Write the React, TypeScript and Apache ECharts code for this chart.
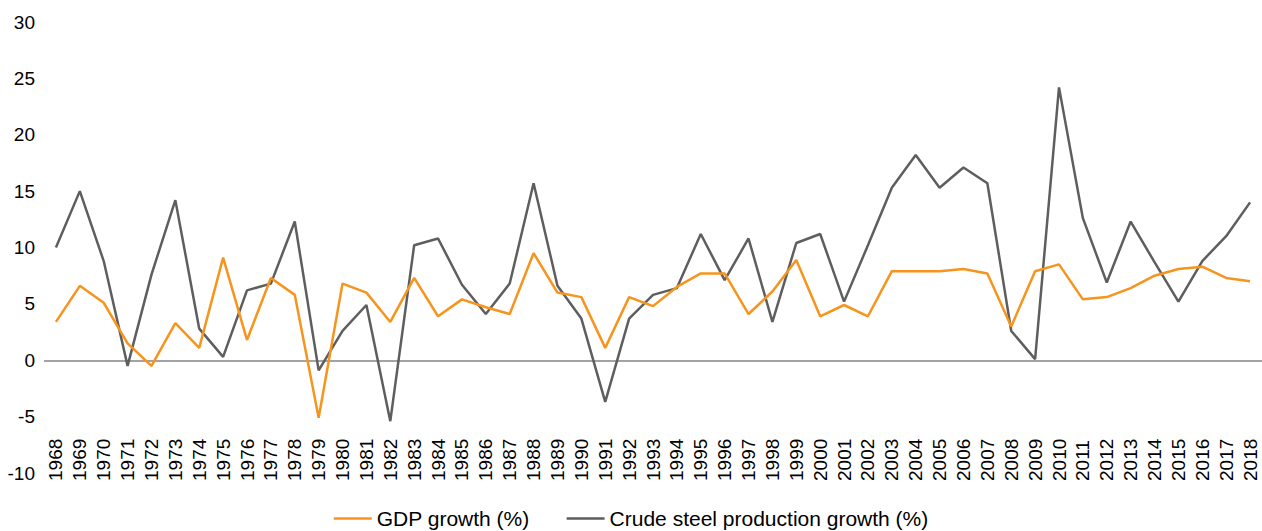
import React, { useEffect, useRef } from "react";
import * as echarts from "echarts";

const years = [
  "1968","1969","1970","1971","1972","1973","1974","1975","1976","1977",
  "1978","1979","1980","1981","1982","1983","1984","1985","1986","1987",
  "1988","1989","1990","1991","1992","1993","1994","1995","1996","1997",
  "1998","1999","2000","2001","2002","2003","2004","2005","2006","2007",
  "2008","2009","2010","2011","2012","2013","2014","2015","2016","2017","2018",
];

const gdpGrowth = [
  3.4, 6.6, 5.1, 1.5, -0.5, 3.3, 1.1, 9.1, 1.8, 7.3,
  5.8, -5.1, 6.8, 6.0, 3.4, 7.3, 3.9, 5.4, 4.7, 4.1,
  9.5, 6.0, 5.6, 1.1, 5.6, 4.8, 6.5, 7.7, 7.7, 4.1,
  6.1, 8.9, 3.9, 4.9, 3.9, 7.9, 7.9, 7.9, 8.1, 7.7,
  3.0, 7.9, 8.5, 5.4, 5.6, 6.4, 7.5, 8.1, 8.3, 7.3, 7.0,
];

const steelGrowth = [
  10.0, 15.0, 8.8, -0.5, 7.6, 14.2, 2.8, 0.3, 6.2, 6.8,
  12.3, -0.9, 2.6, 4.9, -5.4, 10.2, 10.8, 6.7, 4.1, 6.8,
  15.7, 6.6, 3.7, -3.7, 3.7, 5.8, 6.4, 11.2, 7.1, 10.8,
  3.4, 10.4, 11.2, 5.2, 10.2, 15.3, 18.2, 15.3, 17.1, 15.7,
  2.6, 0.1, 24.2, 12.6, 6.9, 12.3, 8.7, 5.2, 8.8, 11.0, 14.0,
];

const seriesNames = ["GDP growth (%)", "Crude steel production growth (%)"];

const FONT = 'Helvetica, "Liberation Sans", Arial, sans-serif';

export default function App() {
  const ref = useRef<HTMLDivElement>(null);

  useEffect(() => {
    if (!ref.current) return;
    const chart = echarts.init(ref.current, undefined, { renderer: "svg" });
    chart.setOption({
      animation: false,
      backgroundColor: "#ffffff",
      textStyle: { fontFamily: FONT },
      grid: { left: 44, right: 0, top: 22, bottom: 58, containLabel: false },
      legend: {
        data: seriesNames,
        top: 508,
        left: "center",
        padding: 0,
        icon: "rect",
        itemWidth: 38,
        itemHeight: 2.5,
        itemGap: 37,
        textStyle: { fontSize: 21, color: "#000", fontFamily: FONT },
      },
      xAxis: {
        type: "category",
        data: years,
        boundaryGap: true,
        axisLine: { show: false },
        axisTick: { show: false },
        splitLine: { show: false },
        axisLabel: {
          interval: 0,
          rotate: 90,
          inside: true,
          margin: -8,
          fontSize: 19,
          color: "#000",
          fontFamily: FONT,
        },
      },
      yAxis: {
        type: "value",
        min: -10,
        max: 30,
        interval: 5,
        axisLine: { show: false },
        axisTick: { show: false },
        splitLine: { show: false },
        axisLabel: { fontSize: 19, color: "#000", margin: 9, fontFamily: FONT },
      },
      series: [
        {
          name: seriesNames[0],
          type: "line",
          data: gdpGrowth,
          symbol: "none",
          lineStyle: { color: "#F7941E", width: 2.5 },
          itemStyle: { color: "#F7941E" },
          z: 3,
          markLine: {
            silent: true,
            symbol: "none",
            label: { show: false },
            lineStyle: { color: "#858585", width: 1.5, type: "solid" },
            data: [{ yAxis: 0 }],
            z: 1,
          },
        },
        {
          name: seriesNames[1],
          type: "line",
          data: steelGrowth,
          symbol: "none",
          lineStyle: { color: "#5E5E5E", width: 2.5 },
          itemStyle: { color: "#5E5E5E" },
          z: 2,
        },
      ],
    });
    return () => chart.dispose();
  }, []);

  return (
    <div
      ref={ref}
      style={{ position: "fixed", left: 0, top: 0, width: 1262, height: 531, background: "#fff" }}
    />
  );
}
